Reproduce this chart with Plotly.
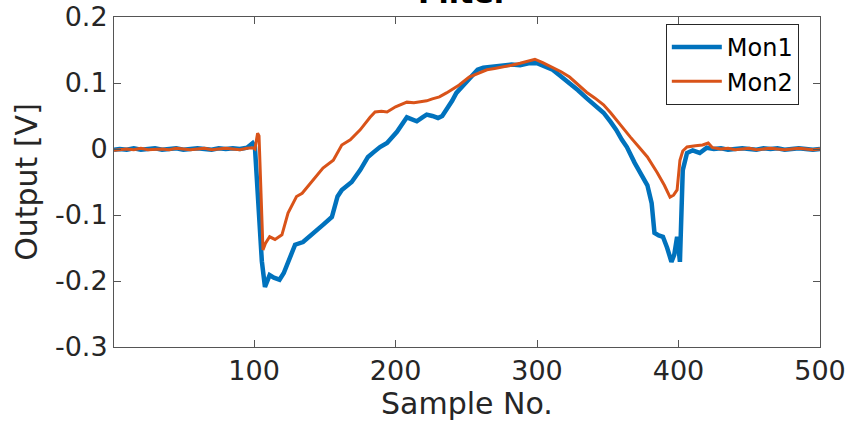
import plotly.graph_objects as go

# ---------------- data ----------------
mon1_x = [1, 5, 10, 15, 20, 25, 30, 35, 40, 45, 50, 55, 60, 65, 70, 75, 80, 85, 90, 95,
          99, 100.6, 103, 105.5, 107.7, 111, 114, 118, 121, 125, 129, 134.6, 141.6, 148.7,
          155, 159, 162, 169, 175, 180.5, 185, 189, 194, 201, 208, 212, 215, 219, 222, 226,
          230, 233, 236, 240, 243, 247, 250, 254, 258, 262, 268, 276, 282, 288, 294, 300,
          305, 311, 317, 323, 329, 335, 341, 347, 352, 356, 360, 363.5, 369, 374, 378, 381,
          383, 386, 389, 392, 395, 397, 399, 400, 401, 403, 406, 410, 413, 415, 420, 425,
          430, 435, 440, 445, 450, 455, 460, 465, 470, 475, 480, 485, 490, 495, 500]
mon1_y = [-0.001, 0.000, -0.001, 0.001, -0.001, 0.000, 0.001, -0.001, 0.000, 0.001, -0.001,
          0.000, 0.001, 0.000, -0.001, 0.001, 0.000, 0.001, 0.000, 0.002,
          0.009, 0.003, -0.080, -0.170, -0.209, -0.191, -0.195, -0.198, -0.188, -0.164,
          -0.145, -0.141, -0.127, -0.115,
          -0.103, -0.072, -0.062, -0.050, -0.032, -0.012, -0.004, 0.003, 0.009, 0.026, 0.048,
          0.045, 0.042, 0.048, 0.052, 0.050,
          0.047, 0.050, 0.059, 0.073, 0.085, 0.094, 0.102, 0.110, 0.120, 0.123, 0.125, 0.127,
          0.128, 0.127, 0.130, 0.130,
          0.126, 0.120, 0.110, 0.100, 0.089, 0.077, 0.066, 0.055, 0.041, 0.029, 0.014, 0.003,
          -0.021, -0.040, -0.055, -0.082,
          -0.127, -0.131, -0.133, -0.150, -0.171, -0.160, -0.133, -0.150, -0.171, -0.032,
          -0.006, -0.002, -0.004, -0.006, 0.002, 0.000,
          0.001, -0.001, 0.000, 0.001, 0.000, -0.001, 0.001, 0.000, 0.001, -0.001, 0.000,
          0.001, 0.000, -0.001, 0.000]

mon2_x = [1, 5, 10, 15, 20, 25, 30, 35, 40, 45, 50, 55, 60, 65, 70, 75, 80, 85, 90, 95,
          99, 100.6, 102.5, 103.5, 106.3, 108, 111, 114.8, 119.7, 124, 130, 134, 141.6,
          148.7, 156, 162, 168, 175, 182, 185.5, 190, 194, 200, 204, 208, 213, 217,
          222, 226, 231, 236, 240, 245, 252, 258, 264.6, 270, 276, 282, 288, 293, 298.5, 304,
          311, 317, 323, 329, 335, 341, 347, 352, 356, 361, 366, 372, 378, 385, 390, 394,
          396.5, 399, 401, 403, 406, 412, 417, 421, 424, 430, 435, 440, 445, 450, 455, 460,
          465, 470, 475, 480, 485, 490, 495, 500]
mon2_y = [-0.002, -0.001, 0.000, -0.001, 0.001, -0.001, 0.000, 0.000, -0.001, 0.001, 0.000,
          -0.001, 0.000, 0.001, -0.001, 0.000, 0.001, 0.000, -0.001, 0.001,
          0.002, 0.000, 0.024, 0.020, -0.153, -0.143, -0.133, -0.137, -0.130, -0.097, -0.072,
          -0.067, -0.047,
          -0.029, -0.017, 0.006, 0.014, 0.029, 0.048, 0.056, 0.057, 0.056, 0.064, 0.068,
          0.071, 0.070, 0.071,
          0.073, 0.076, 0.079, 0.085, 0.090, 0.097, 0.109, 0.114, 0.120, 0.122, 0.124, 0.127,
          0.130, 0.133, 0.136, 0.131,
          0.124, 0.117, 0.109, 0.098, 0.086, 0.077, 0.067, 0.055, 0.044, 0.031, 0.018, 0.003,
          -0.012, -0.036, -0.055, -0.073,
          -0.070, -0.062, -0.017, -0.003, 0.003, 0.005, 0.006, 0.009, 0.002, 0.000, 0.001,
          -0.001, 0.000, 0.001, -0.001, 0.000,
          0.001, 0.000, -0.001, 0.000, 0.001, 0.000, -0.001, 0.000]

x_ticks = [100, 200, 300, 400, 500]
y_ticks = [-0.3, -0.2, -0.1, 0, 0.1, 0.2]
y_ticktext = ["-0.3", "-0.2", "-0.1", "0", "0.1", "0.2"]
title_text = "Filter"

# ---------------- figure ----------------
FONT = "DejaVu Sans"
DARK = "#262626"

fig = go.Figure()
fig.add_trace(go.Scatter(x=mon1_x, y=mon1_y, mode="lines", name="Mon1",
                         line=dict(color="#0072BD", width=4.5)))
fig.add_trace(go.Scatter(x=mon2_x, y=mon2_y, mode="lines", name="Mon2",
                         line=dict(color="#D95319", width=3)))

axis_common = dict(showgrid=False, zeroline=False, showline=True, linecolor="#555555",
                   linewidth=1, mirror="ticks", ticks="inside", ticklen=7, automargin=False,
                   tickcolor="#555555", tickfont=dict(family=FONT, size=27, color=DARK))

fig.update_layout(
    width=848, height=425,
    margin=dict(l=114, r=28, t=17, b=78),
    paper_bgcolor="white", plot_bgcolor="white",
    font=dict(family=FONT, color=DARK),
    xaxis=dict(range=[1, 500], tickvals=x_ticks,
               title=dict(text="Sample No.", font=dict(family=FONT, size=30, color=DARK), standoff=4),
               **axis_common),
    yaxis=dict(range=[-0.3, 0.2], tickvals=y_ticks, ticktext=y_ticktext,
               title=dict(text="Output [V]", font=dict(family=FONT, size=30, color=DARK), standoff=8),
               **axis_common),
    legend=dict(x=0.970, y=0.979, xanchor="right", yanchor="top", bgcolor="white",
                bordercolor=DARK, borderwidth=1, font=dict(family=FONT, size=24, color="#000000"),
                itemwidth=50, tracegroupgap=0),
    showlegend=True,
)

fig.add_annotation(text="<b>" + title_text + "</b>", xref="paper", yref="paper",
                   x=0.495, y=1, xanchor="center", yanchor="bottom", yshift=5,
                   showarrow=False, font=dict(family=FONT, size=30, color="#000000"))

fig.write_html("out.html")
